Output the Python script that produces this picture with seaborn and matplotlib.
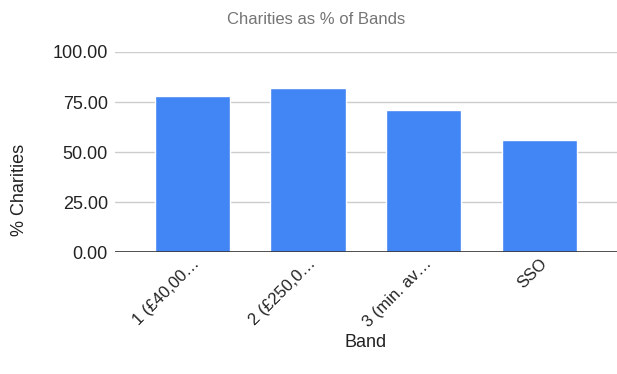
import matplotlib
matplotlib.use("Agg")
import matplotlib.pyplot as plt
import seaborn as sns
import pandas as pd

bands = ["1 (£40,00…", "2 (£250,0…", "3 (min. av…", "SSO"]
pct_charities = [78.1, 82.2, 71.2, 55.8]
y_ticks = [0, 25, 50, 75, 100]

sns.set_theme(style="white")
plt.rcParams["font.family"] = ["Liberation Sans", "DejaVu Sans"]

df = pd.DataFrame({"Band": bands, "% Charities": pct_charities})

fig = plt.figure(figsize=(6.17, 3.74), dpi=100)
ax = fig.add_axes([0.186, 0.326, 0.814, 0.535])

sns.barplot(data=df, x="Band", y="% Charities", color="#4285F4",
            saturation=1, width=0.65, ax=ax, zorder=3)

ax.set_ylim(0, 100)
ax.set_xlim(-0.67, 3.67)
ax.set_yticks(y_ticks)
ax.set_yticklabels([f"{v:.2f}" for v in y_ticks], fontsize=13, color="#222222")
ax.yaxis.grid(True, color="#cccccc", linewidth=1, zorder=0)
ax.axhline(0, color="#333333", linewidth=1.2, zorder=4)
for s in ax.spines.values():
    s.set_visible(False)
ax.tick_params(axis="y", length=0, pad=5)
ax.tick_params(axis="x", length=0, pad=3)

ax.set_xticks(range(len(bands)))
ax.set_xticklabels(bands, rotation=45, ha="right", rotation_mode="anchor",
                   fontsize=12, color="#222222")

ax.set_xlabel("Band", fontsize=13, color="#222222", va="center")
ax.xaxis.set_label_coords(0.5, -0.45)
ax.set_ylabel("% Charities", fontsize=13, color="#222222", va="center")
ax.yaxis.set_label_coords(-0.19, 0.31)

fig.suptitle("Charities as % of Bands", x=0.513, y=1 - 20 / 374, va="center",
             fontsize=12, color="#757575")

fig.savefig("out.png", dpi=100)
